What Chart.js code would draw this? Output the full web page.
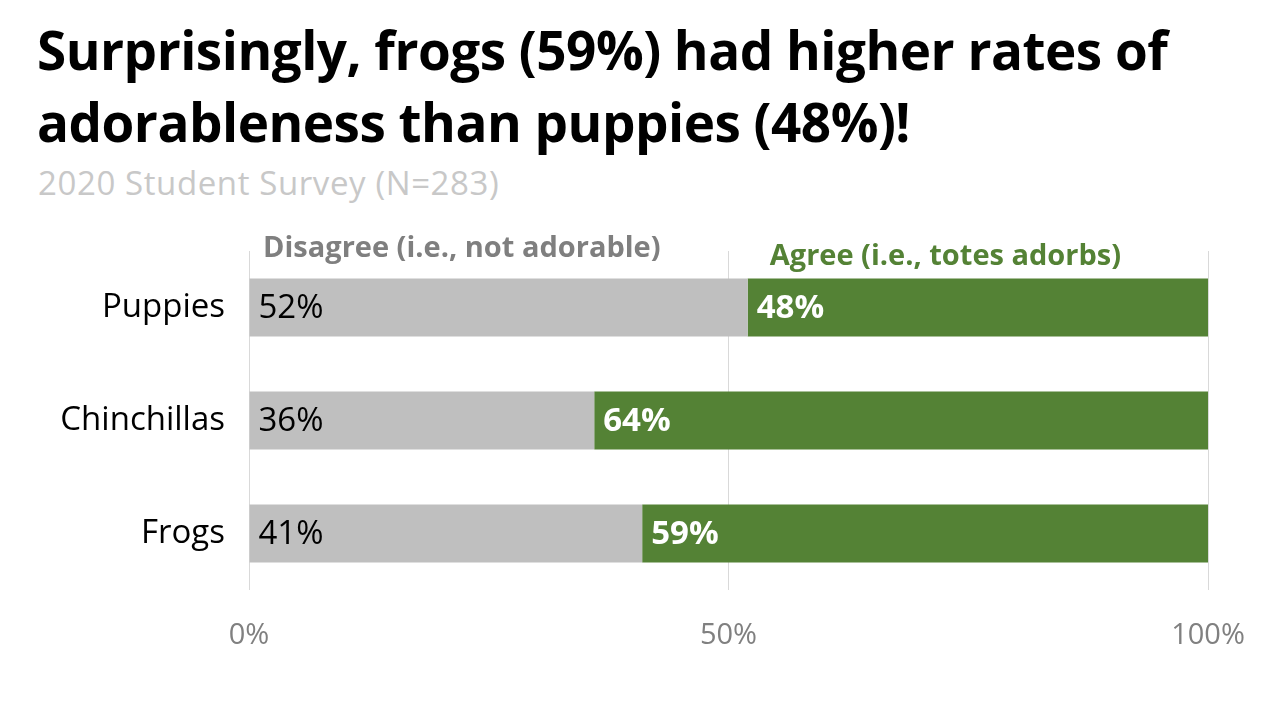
<!DOCTYPE html>
<html>
<head>
<meta charset="utf-8">
<script src="https://cdn.jsdelivr.net/npm/chart.js@4/dist/chart.umd.min.js"></script>
<style>
  html, body { margin: 0; padding: 0; background: #fff; }
  #wrap { position: relative; width: 1280px; height: 720px; overflow: hidden; }
  #title { position: absolute; left: 37px; top: 14px; margin: 0; font-family: "Open Sans", sans-serif; font-weight: 700; font-size: 53px; line-height: 72px; color: #000; letter-spacing: -0.5px; }
  #subtitle { position: absolute; left: 38px; top: 160px; margin: 0; font-family: "Open Sans", sans-serif; font-weight: 400; font-size: 33px; line-height: 46px; color: #c8c8c8; letter-spacing: 0.6px; }
  #myChart { position: absolute; left: 0; top: 0; }
</style>
</head>
<body>
<div id="wrap">
  <h1 id="title">Surprisingly, frogs (59%) had higher rates of<br>adorableness than puppies (48%)!</h1>
  <div id="subtitle">2020 Student Survey (N=283)</div>
  <canvas id="myChart" width="1280" height="720"></canvas>
</div>
<script>
var categories = ['Puppies', 'Chinchillas', 'Frogs'];
var disagree = [52, 36, 41];
var agree = [48, 64, 59];
var tickValues = [0, 50, 100];

var FONT = '"Open Sans", sans-serif';

var barLabels = {
  id: 'barLabels',
  afterDatasetsDraw: function(chart) {
    var ctx = chart.ctx;
    ctx.save();
    ctx.textBaseline = 'middle';
    ctx.textAlign = 'left';
    chart.data.datasets.forEach(function(ds, i) {
      var meta = chart.getDatasetMeta(i);
      meta.data.forEach(function(bar, j) {
        var left = Math.min(bar.x, bar.base);
        ctx.fillStyle = i === 0 ? '#000' : '#fff';
        ctx.font = (i === 0 ? '400 ' : '700 ') + '33px ' + FONT;
        ctx.fillText(ds.data[j] + '%', left + 9, bar.y + 1);
      });
    });
    // series captions above the bars
    var x = chart.scales.x, top = chart.chartArea.top;
    ctx.font = '700 29px ' + FONT;
    ctx.fillStyle = '#7f7f7f';
    ctx.fillText('Disagree (i.e., not adorable)', x.getPixelForValue(0) + 14, top - 2);
    ctx.fillStyle = '#548235';
    ctx.fillText('Agree (i.e., totes adorbs)', x.getPixelForValue(54.3), top + 6);
    ctx.restore();
  }
};

var ctx = document.getElementById('myChart');
var myChart = new Chart(ctx, {
  type: 'bar',
  data: {
    labels: categories,
    datasets: [{
      label: 'Disagree',
      data: disagree,
      backgroundColor: '#bfbfbf',
      categoryPercentage: 1,
      barPercentage: 0.513
    }, {
      label: 'Agree',
      data: agree,
      backgroundColor: '#548235',
      categoryPercentage: 1,
      barPercentage: 0.513
    }]
  },
  options: {
    indexAxis: 'y',
    responsive: false,
    animation: false,
    layout: { padding: { top: 251, right: 72, left: 0, bottom: 0 } },
    plugins: {
      legend: { display: false },
      tooltip: { enabled: false }
    },
    scales: {
      x: {
        stacked: true,
        min: 0,
        max: 100,
        afterBuildTicks: function(s) {
          s.ticks = tickValues.map(function(v) { return { value: v }; });
        },
        afterFit: function(s) { s.height = 130; },
        border: { display: false },
        grid: { color: '#d9d9d9', drawTicks: false, lineWidth: 1 },
        ticks: {
          padding: 28,
          color: '#808080',
          font: { family: FONT, size: 29 },
          callback: function(v) { return v + '%'; }
        }
      },
      y: {
        stacked: true,
        afterFit: function(s) { s.width = 249; },
        border: { display: false },
        grid: { display: false },
        ticks: {
          padding: 16,
          color: '#000',
          font: { family: FONT, size: 33 }
        }
      }
    }
  },
  plugins: [barLabels]
});
</script>
</body>
</html>
